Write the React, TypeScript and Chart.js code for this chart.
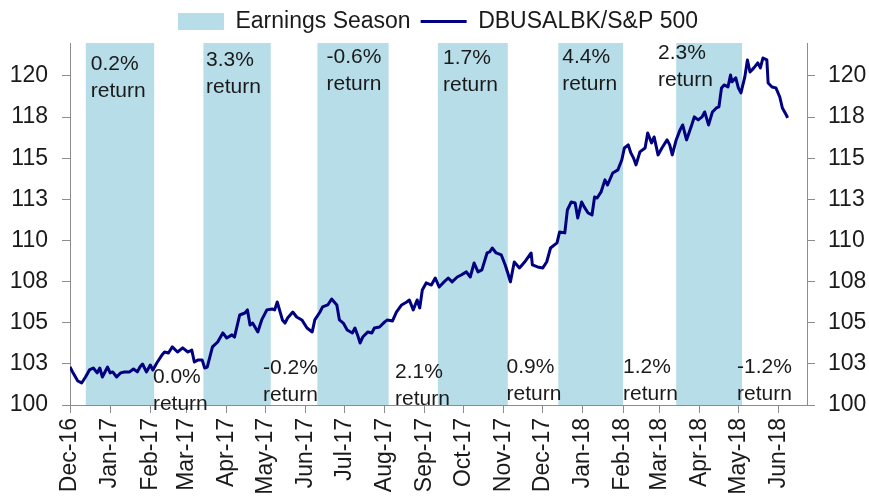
import React, { useEffect, useRef } from 'react';
import { Chart, registerables } from 'chart.js';

Chart.register(...registerables);

// ---------- data ----------
const START_ISO = '2016-12-01';
const END_ISO = '2018-06-23';

const tickLabels = ['Dec-16', 'Jan-17', 'Feb-17', 'Mar-17', 'Apr-17', 'May-17', 'Jun-17', 'Jul-17', 'Aug-17', 'Sep-17',
  'Oct-17', 'Nov-17', 'Dec-17', 'Jan-18', 'Feb-18', 'Mar-18', 'Apr-18', 'May-18', 'Jun-18'];
const tickDates = ['2016-12-01', '2017-01-01', '2017-02-01', '2017-03-01', '2017-04-01', '2017-05-01', '2017-06-01',
  '2017-07-01', '2017-08-01', '2017-09-01', '2017-10-01', '2017-11-01', '2017-12-01', '2018-01-01', '2018-02-01',
  '2018-03-01', '2018-04-01', '2018-05-01', '2018-06-01'];

const seriesLabel = 'DBUSALBK/S&P 500';
const seriesDates = [
  '2016-12-01', '2016-12-03', '2016-12-07', '2016-12-10', '2016-12-13', '2016-12-16', '2016-12-19', '2016-12-22',
  '2016-12-24', '2016-12-26', '2016-12-30', '2017-01-01', '2017-01-03', '2017-01-06', '2017-01-09', '2017-01-12',
  '2017-01-16', '2017-01-19', '2017-01-22', '2017-01-24', '2017-01-26', '2017-01-29', '2017-02-01', '2017-02-03',
  '2017-02-06', '2017-02-10', '2017-02-12', '2017-02-15', '2017-02-18', '2017-02-22', '2017-02-26', '2017-03-02',
  '2017-03-05', '2017-03-07', '2017-03-10', '2017-03-13', '2017-03-15', '2017-03-17', '2017-03-21', '2017-03-25',
  '2017-03-29', '2017-04-01', '2017-04-05', '2017-04-07', '2017-04-11', '2017-04-15', '2017-04-17', '2017-04-19',
  '2017-04-21', '2017-04-25', '2017-04-28', '2017-05-02', '2017-05-06', '2017-05-08', '2017-05-10', '2017-05-14',
  '2017-05-16', '2017-05-18', '2017-05-22', '2017-05-25', '2017-05-29', '2017-06-02', '2017-06-06', '2017-06-08',
  '2017-06-12', '2017-06-14', '2017-06-18', '2017-06-21', '2017-06-25', '2017-06-27', '2017-06-30', '2017-07-03',
  '2017-07-07', '2017-07-09', '2017-07-11', '2017-07-13', '2017-07-15', '2017-07-19', '2017-07-22', '2017-07-24',
  '2017-07-28', '2017-08-01', '2017-08-03', '2017-08-07', '2017-08-10', '2017-08-14', '2017-08-18', '2017-08-20',
  '2017-08-23', '2017-08-26', '2017-08-28', '2017-08-30', '2017-09-02', '2017-09-06', '2017-09-09', '2017-09-12',
  '2017-09-15', '2017-09-19', '2017-09-22', '2017-09-26', '2017-09-29', '2017-10-03', '2017-10-06', '2017-10-09',
  '2017-10-12', '2017-10-15', '2017-10-19', '2017-10-21', '2017-10-23', '2017-10-26', '2017-10-30', '2017-11-02',
  '2017-11-04', '2017-11-06', '2017-11-09', '2017-11-13', '2017-11-17', '2017-11-22', '2017-11-23', '2017-11-27',
  '2017-12-01', '2017-12-04', '2017-12-07', '2017-12-12', '2017-12-14', '2017-12-18', '2017-12-20', '2017-12-23',
  '2017-12-26', '2017-12-28', '2017-12-31', '2018-01-02', '2018-01-05', '2018-01-08', '2018-01-10', '2018-01-12',
  '2018-01-15', '2018-01-18', '2018-01-20', '2018-01-24', '2018-01-28', '2018-01-31', '2018-02-02', '2018-02-05',
  '2018-02-07', '2018-02-09', '2018-02-11', '2018-02-14', '2018-02-18', '2018-02-20', '2018-02-23', '2018-02-25',
  '2018-02-28', '2018-03-03', '2018-03-07', '2018-03-09', '2018-03-11', '2018-03-14', '2018-03-17', '2018-03-19',
  '2018-03-22', '2018-03-26', '2018-03-28', '2018-03-31', '2018-04-03', '2018-04-05', '2018-04-08', '2018-04-11',
  '2018-04-14', '2018-04-16', '2018-04-18', '2018-04-20', '2018-04-23', '2018-04-25', '2018-04-26', '2018-04-29',
  '2018-05-01', '2018-05-03', '2018-05-06', '2018-05-08', '2018-05-10', '2018-05-13', '2018-05-16', '2018-05-18',
  '2018-05-20', '2018-05-23', '2018-05-24', '2018-05-27', '2018-05-30', '2018-06-02', '2018-06-04', '2018-06-07',
  '2018-06-08'];
const seriesValues = [
  102.31, 102.01, 101.46, 101.34, 101.70, 102.13, 102.25, 101.95,
  102.25, 101.70, 102.31, 101.95, 102.01, 101.70, 101.95, 102.01,
  102.01, 102.19, 102.01, 102.31, 102.49, 102.01, 102.43, 102.13,
  102.55, 103.04, 103.22, 103.16, 103.53, 103.22, 103.47, 103.22,
  103.34, 102.61, 102.74, 102.74, 102.25, 102.31, 103.53, 103.83,
  104.38, 104.07, 104.26, 104.13, 105.47, 105.59, 105.78, 104.86,
  104.98, 104.44, 105.17, 105.78, 105.84, 105.78, 106.26, 105.17,
  104.98, 105.29, 105.65, 105.35, 105.17, 104.68, 104.44, 105.17,
  105.65, 105.96, 106.08, 106.44, 106.08, 105.17, 104.98, 104.56,
  104.38, 104.68, 104.26, 103.77, 104.13, 104.44, 104.38, 104.68,
  104.74, 105.05, 105.17, 105.11, 105.65, 106.08, 106.26, 106.38,
  105.78, 106.38, 105.90, 106.99, 107.42, 107.29, 107.72, 107.17,
  107.42, 107.72, 107.48, 107.78, 107.90, 108.09, 107.78, 108.63,
  108.09, 108.21, 109.24, 109.30, 109.54, 109.24, 109.12, 108.51,
  108.02, 107.48, 108.69, 108.33, 108.69, 109.24, 108.51, 108.39,
  108.33, 108.69, 109.54, 109.85, 110.52, 110.46, 111.85, 112.34,
  112.28, 111.37, 112.34, 112.04, 111.67, 111.55, 112.64, 112.58,
  112.95, 113.68, 113.37, 114.10, 114.29, 114.89, 115.62, 115.81,
  115.32, 115.02, 114.59, 115.38, 115.62, 116.53, 115.93, 116.29,
  115.20, 115.62, 116.11, 115.81, 115.20, 116.11, 116.72, 117.02,
  116.11, 117.02, 117.51, 117.33, 117.51, 117.81, 117.02, 117.81,
  118.05, 118.12, 119.27, 119.45, 119.33, 120.06, 119.64, 119.88,
  119.27, 118.97, 119.94, 120.97, 120.24, 120.49, 120.79, 120.49,
  121.09, 120.97, 119.57, 119.33, 119.27, 118.72, 118.05, 117.63,
  117.45];

const seasonLabel = 'Earnings Season';
const seasonStart = ['2016-12-13', '2017-03-14', '2017-06-10', '2017-09-11', '2017-12-13', '2018-03-14'];
const seasonEnd = ['2017-02-04', '2017-05-05', '2017-08-04', '2017-11-04', '2018-02-01', '2018-05-04'];

const noteReturns = ['0.2%', '0.0%', '3.3%', '-0.2%', '-0.6%', '2.1%', '1.7%', '0.9%', '4.4%', '1.2%', '2.3%', '-1.2%'];
const noteWord = 'return';
const noteDates = ['2016-12-17', '2017-02-03', '2017-03-16', '2017-04-29', '2017-06-17', '2017-08-09',
  '2017-09-15', '2017-11-03', '2017-12-16', '2018-02-01', '2018-02-28', '2018-04-30'];
const noteValues = [120.73, 101.70, 120.97, 102.25, 121.16, 102.01, 121.09, 102.31, 121.16, 102.31, 121.40, 102.31];

const yMin = 100;
const yMax = 122;
const yStep = 2.5;

// ---------- helpers ----------
const startMs = Date.parse(START_ISO + 'T00:00:00Z');
const dayOf = (iso: string) => (Date.parse(iso + 'T00:00:00Z') - startMs) / 86400000;

const FONT = "'Liberation Sans', Arial, sans-serif";
const TEXT = '#1a1a1a';
const AXIS = '#8c8c8c';
const BAND = '#B7DDE8';
const NAVY = '#000080';

const notesPlugin = {
  id: 'returnNotes',
  afterDatasetDraw(chart: any, args: any) {
    if (args.index !== 0) return;
    const { ctx, scales } = chart;
    ctx.save();
    ctx.font = `21px ${FONT}`;
    ctx.fillStyle = TEXT;
    ctx.textAlign = 'left';
    ctx.textBaseline = 'middle';
    noteReturns.forEach((t, i) => {
      const px = scales.x.getPixelForValue(dayOf(noteDates[i]));
      const py = scales.y.getPixelForValue(noteValues[i]);
      ctx.fillText(t, px, py);
      ctx.fillText(noteWord, px, py + 27);
    });
    ctx.restore();
  },
};

export default function App() {
  const ref = useRef<HTMLCanvasElement | null>(null);

  useEffect(() => {
    document.body.style.margin = '0';
    const canvas = ref.current;
    if (!canvas) return;

    const bandPoints = seasonStart.flatMap((s, i) => [
      { x: dayOf(s), y: yMin },
      { x: dayOf(s), y: yMax },
      { x: dayOf(seasonEnd[i]), y: yMax },
      { x: dayOf(seasonEnd[i]), y: yMin },
    ]);
    const linePoints = seriesDates.map((d, i) => ({ x: dayOf(d), y: seriesValues[i] }));
    const tickValues = tickDates.map(dayOf);

    const yTicks = {
      stepSize: yStep,
      includeBounds: false,
      color: TEXT,
      font: { size: 23, family: FONT },
      callback: (v: any) => String(Math.round(Number(v))),
    };

    const chart = new Chart(canvas, {
      type: 'line',
      data: {
        datasets: [
          {
            label: seasonLabel,
            data: bandPoints,
            backgroundColor: BAND,
            borderColor: 'rgba(0,0,0,0)',
            borderWidth: 0,
            pointRadius: 0,
            pointStyle: 'rect',
            fill: 'start',
            tension: 0,
            order: 2,
          },
          {
            label: seriesLabel,
            data: linePoints,
            borderColor: NAVY,
            backgroundColor: NAVY,
            borderWidth: 3,
            pointRadius: 0,
            pointStyle: 'line',
            fill: false,
            tension: 0,
            borderJoinStyle: 'round',
            order: 1,
          },
        ],
      },
      options: {
        responsive: false,
        animation: false,
        events: [],
        layout: { padding: { left: 10, right: 3, top: 0, bottom: 0 } },
        plugins: {
          tooltip: { enabled: false },
          legend: {
            display: true,
            position: 'top',
            labels: {
              usePointStyle: true,
              pointStyleWidth: 46,
              boxHeight: 17,
              padding: 10,
              color: TEXT,
              font: { size: 23, family: FONT },
              sort: (a: any, b: any) => a.datasetIndex - b.datasetIndex,
            },
          },
        },
        scales: {
          x: {
            type: 'linear',
            min: 0,
            max: dayOf(END_ISO),
            afterBuildTicks: (scale: any) => {
              scale.ticks = tickValues.map((v) => ({ value: v }));
            },
            afterFit: (scale: any) => {
              scale.height = 95;
            },
            ticks: {
              autoSkip: false,
              minRotation: 90,
              maxRotation: 90,
              padding: 5,
              color: TEXT,
              font: { size: 23, family: FONT },
              callback: (_v: any, i: number) => tickLabels[i],
            },
            grid: { drawOnChartArea: false, drawTicks: true, tickLength: 8, color: AXIS },
            border: { display: true, color: AXIS, width: 1 },
          },
          y: {
            type: 'linear',
            position: 'left',
            min: yMin,
            max: yMax,
            afterFit: (scale: any) => {
              scale.width = 60;
            },
            ticks: { ...yTicks, padding: 14 },
            grid: { drawOnChartArea: false, drawTicks: true, tickLength: 8, color: AXIS },
            border: { display: true, color: AXIS, width: 1 },
          },
          y2: {
            type: 'linear',
            position: 'right',
            min: yMin,
            max: yMax,
            afterFit: (scale: any) => {
              scale.width = 59;
            },
            ticks: { ...yTicks, padding: 13 },
            grid: { drawOnChartArea: false, drawTicks: true, tickLength: 8, color: AXIS },
            border: { display: true, color: AXIS, width: 1 },
          },
        },
      },
      plugins: [notesPlugin],
    } as any);

    return () => chart.destroy();
  }, []);

  return (
    <div style={{ width: 869, height: 500 }}>
      <canvas ref={ref} width={869} height={500} style={{ display: 'block' }} />
    </div>
  );
}
